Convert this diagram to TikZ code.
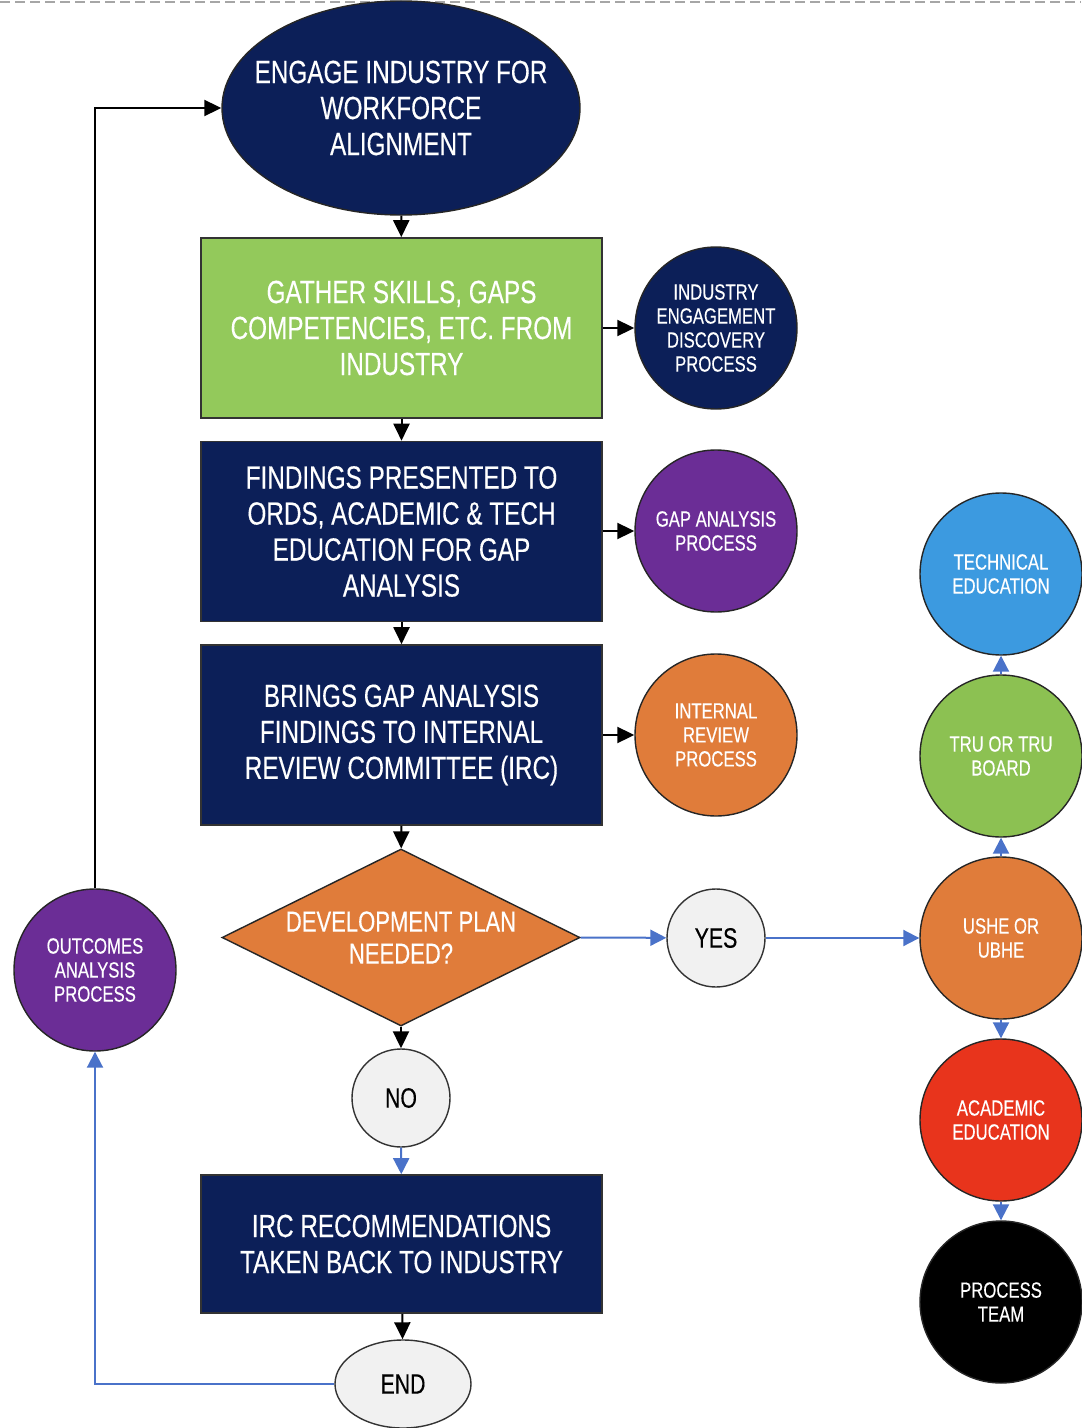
\documentclass[tikz,border=0pt]{standalone}
\usepackage{fontspec}
\setmainfont{Liberation Sans}[FakeStretch=0.76, FakeBold=0.3]
\usetikzlibrary{shapes.geometric,arrows.meta}
\definecolor{navy}{HTML}{0C1F58}
\definecolor{leaf}{HTML}{93C95B}
\definecolor{grape}{HTML}{6B2D96}
\definecolor{tangerine}{HTML}{E07C3A}
\definecolor{sky}{HTML}{3C9AE0}
\definecolor{lime}{HTML}{8CC152}
\definecolor{scarlet}{HTML}{E8341C}
\definecolor{linkblue}{HTML}{4A72C9}
\definecolor{pale}{HTML}{F1F1F1}
\tikzset{
  bigtext/.style={font=\fontsize{16}{18}\selectfont, text=white, align=center},
  smalltext/.style={font=\fontsize{11}{12}\selectfont, text=white, align=center},
  stepbox/.style={rectangle, draw=black!80, line width=0.8pt, minimum width=200.5pt, minimum height=90pt, inner sep=0pt, bigtext},
  bubble/.style={circle, draw=black!85, line width=0.7pt, minimum size=81pt, inner sep=0pt, smalltext},
  answer/.style={circle, draw=black!80, line width=0.7pt, fill=pale, minimum size=49pt, inner sep=0pt, font=\fontsize{14}{18}\selectfont},
  arr/.style={draw=black, line width=1pt, -{Triangle[length=8.5pt,width=8pt]}},
  barr/.style={draw=linkblue, line width=1pt, -{Triangle[length=8pt,width=8pt]}},
}
\begin{document}
\begin{tikzpicture}[x=0.5pt,y=-0.5pt]
\useasboundingbox (0,0) rectangle (1081,1428);
\fill[white] (0,0) rectangle (1081,1428);
% dashed rule along the top edge
\draw[black!35, line width=0.7pt, dash pattern=on 5pt off 2.5pt] (0,2) -- (1081,2);

% main column
\node[ellipse, draw=black!85, line width=0.7pt, fill=navy, minimum width=179pt, minimum height=107pt, inner sep=0pt,
      label={[bigtext]center:ENGAGE INDUSTRY FOR\\WORKFORCE\\ALIGNMENT}] (engage) at (401,108) {};
\node[stepbox, fill=leaf] (gather) at (401.5,328) {GATHER SKILLS, GAPS\\COMPETENCIES, ETC. FROM\\INDUSTRY};
\node[stepbox, fill=navy] (findings) at (401.5,531.5) {FINDINGS PRESENTED TO\\ORDS, ACADEMIC \& TECH\\EDUCATION FOR GAP\\ANALYSIS};
\node[stepbox, fill=navy] (brings) at (401.5,735) {BRINGS GAP ANALYSIS\\FINDINGS TO INTERNAL\\REVIEW COMMITTEE (IRC)};
\node[diamond, draw=black!85, line width=0.7pt, fill=tangerine, minimum width=179pt, minimum height=88.5pt, inner sep=0pt,
      label={[bigtext, font=\fontsize{14.5}{16}\selectfont]center:DEVELOPMENT PLAN\\NEEDED?}] (plan) at (401,937.5) {};
\node[answer] (no) at (401,1098) {NO};
\node[stepbox, fill=navy, minimum height=69pt] (irc) at (401.5,1244) {IRC RECOMMENDATIONS\\TAKEN BACK TO INDUSTRY};
\node[ellipse, draw=black!80, line width=0.7pt, fill=pale, minimum width=68pt, minimum height=44pt, inner sep=0pt, font=\fontsize{14}{18}\selectfont] (finish) at (403,1384) {END};

% side processes
\node[bubble, fill=navy] (discovery) at (716,328) {INDUSTRY\\ENGAGEMENT\\DISCOVERY\\PROCESS};
\node[bubble, fill=grape] (gap) at (716,531) {GAP ANALYSIS\\PROCESS};
\node[bubble, fill=tangerine] (review) at (716,735) {INTERNAL\\REVIEW\\PROCESS};
\node[bubble, fill=grape] (outcomes) at (95,970) {OUTCOMES\\ANALYSIS\\PROCESS};
\node[answer] (yes) at (716,938) {YES};

% approval chain
\node[bubble, fill=sky] (tech) at (1001,574) {TECHNICAL\\EDUCATION};
\node[bubble, fill=lime] (tru) at (1001,756) {TRU OR TRU\\BOARD};
\node[bubble, fill=tangerine] (ushe) at (1001,938) {USHE OR\\UBHE};
\node[bubble, fill=scarlet] (acad) at (1001,1120) {ACADEMIC\\EDUCATION};
\node[bubble, fill=black] (team) at (1001,1302) {PROCESS\\TEAM};

% connectors
\draw[arr] (engage) -- (gather);
\draw[arr] (gather) -- (findings);
\draw[arr] (findings) -- (brings);
\draw[arr] (brings) -- (plan);
\draw[arr] (gather) -- (discovery);
\draw[arr] (findings.east |- gap.west) -- (gap.west);
\draw[arr] (brings) -- (review);
\draw[barr] (plan.east) -- (yes);
\draw[barr] (yes) -- (ushe);
\draw[arr] (plan.south) -- (no);
\draw[barr] (no) -- (irc);
\draw[arr] (irc) -- (finish);
\draw[barr] (finish.west) -| (outcomes.south);
\draw[arr] (outcomes.north) |- (engage.west);
\draw[barr] (ushe) -- (tru);
\draw[barr] (tru) -- (tech);
\draw[barr] (ushe) -- (acad);
\draw[barr] (acad) -- (team);
\end{tikzpicture}
\end{document}
